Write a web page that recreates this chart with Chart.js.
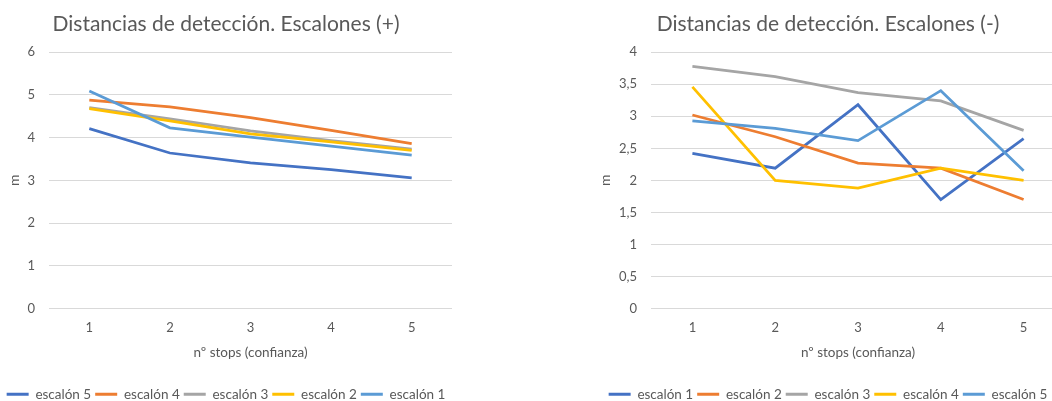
<!DOCTYPE html>
<html>
<head>
<meta charset="utf-8">
<script src="https://cdn.jsdelivr.net/npm/chart.js@4"></script>
<style>
  html, body { margin: 0; padding: 0; background: #fff; overflow: hidden; width: 1052px; height: 401px; }
  .box { position: absolute; top: 0; height: 401px; }
  #box-pos { left: 0; width: 456px; }
  #box-neg { left: 591px; width: 478px; }
</style>
</head>
<body>
<div class="box" id="box-pos"><canvas id="chart-pos"></canvas></div>
<div class="box" id="box-neg"><canvas id="chart-neg"></canvas></div>
<script>
// x axis: number of stops
const stops = ["1", "2", "3", "4", "5"];

// Escalones (+)
const posNames = ["escalón 5", "escalón 4", "escalón 3", "escalón 2", "escalón 1"];
const posEsc5 = [4.21, 3.64, 3.41, 3.25, 3.06];
const posEsc4 = [4.88, 4.72, 4.47, 4.17, 3.86];
const posEsc3 = [4.70, 4.44, 4.16, 3.93, 3.73];
const posEsc2 = [4.68, 4.39, 4.09, 3.90, 3.70];
const posEsc1 = [5.09, 4.23, 4.01, 3.80, 3.59];

// Escalones (-)
const negNames = ["escalón 1", "escalón 2", "escalón 3", "escalón 4", "escalón 5"];
const negEsc1 = [2.42, 2.19, 3.18, 1.70, 2.65];
const negEsc2 = [3.02, 2.68, 2.27, 2.19, 1.70];
const negEsc3 = [3.78, 3.62, 3.37, 3.24, 2.78];
const negEsc4 = [3.46, 2.00, 1.88, 2.19, 2.00];
const negEsc5 = [2.93, 2.81, 2.62, 3.40, 2.15];

const seriesColors = ["#4472C4", "#ED7D31", "#A5A5A5", "#FFC000", "#5B9BD5"];
const textColor = "#595959";
const fontFamily = "Lato, 'Open Sans', sans-serif";

function buildDatasets(names, values) {
  return names.map((name, i) => ({
    label: name,
    data: values[i],
    borderColor: seriesColors[i],
    backgroundColor: seriesColors[i],
    borderWidth: 2.75,
    pointRadius: 0,
    pointHoverRadius: 0,
    pointBorderWidth: 3,
    tension: 0,
    order: -i, // later series drawn on top, like the original
  }));
}

function buildOptions(title, yMax, yStep, yWidth) {
  return {
    responsive: true,
    maintainAspectRatio: false,
    animation: false,
    layout: { padding: { left: 0, right: 4, top: 0, bottom: -10 } },
    plugins: {
      tooltip: { enabled: false },
      title: {
        display: true,
        text: title,
        color: textColor,
        font: { family: fontFamily, size: 21, weight: "normal" },
        padding: { top: 12, bottom: 15 },
      },
      legend: {
        position: "bottom",
        labels: {
          usePointStyle: true,
          pointStyle: "line",
          pointStyleWidth: 22,
          color: textColor,
          font: { family: fontFamily, size: 13.5 },
          padding: 4,
          sort: (a, b) => a.datasetIndex - b.datasetIndex,
        },
      },
    },
    scales: {
      x: {
        offset: true,
        grid: { display: false, drawTicks: false },
        border: { display: false },
        ticks: { color: textColor, font: { family: fontFamily, size: 13 }, padding: 12 },
        title: {
          display: true,
          text: "nº stops (confianza)",
          color: textColor,
          font: { family: fontFamily, size: 13.5 },
          padding: { top: 8, bottom: 23 },
        },
        afterFit: (scale) => { scale.height = 75; },
      },
      y: {
        min: 0,
        max: yMax,
        grid: { color: "#D9D9D9", drawTicks: false },
        border: { display: false },
        ticks: {
          stepSize: yStep,
          color: textColor,
          font: { family: fontFamily, size: 13 },
          padding: 14,
          callback: (v) => String(v).replace(".", ","),
        },
        title: {
          display: true,
          text: "m",
          color: textColor,
          font: { family: fontFamily, size: 14 },
          padding: { top: 6, bottom: 0 },
        },
        afterFit: (scale) => { scale.width = yWidth; },
      },
    },
  };
}

// Left chart: Escalones (+)
new Chart(document.getElementById("chart-pos").getContext("2d"), {
  type: "line",
  data: {
    labels: stops,
    datasets: buildDatasets(posNames, [posEsc5, posEsc4, posEsc3, posEsc2, posEsc1]),
  },
  options: buildOptions("Distancias de detección. Escalones (+)", 6, 1, 49),
});

// Right chart: Escalones (-)
new Chart(document.getElementById("chart-neg").getContext("2d"), {
  type: "line",
  data: {
    labels: stops,
    datasets: buildDatasets(negNames, [negEsc1, negEsc2, negEsc3, negEsc4, negEsc5]),
  },
  options: buildOptions("Distancias de detección. Escalones (-)", 4, 0.5, 60),
});
</script>
</body>
</html>
